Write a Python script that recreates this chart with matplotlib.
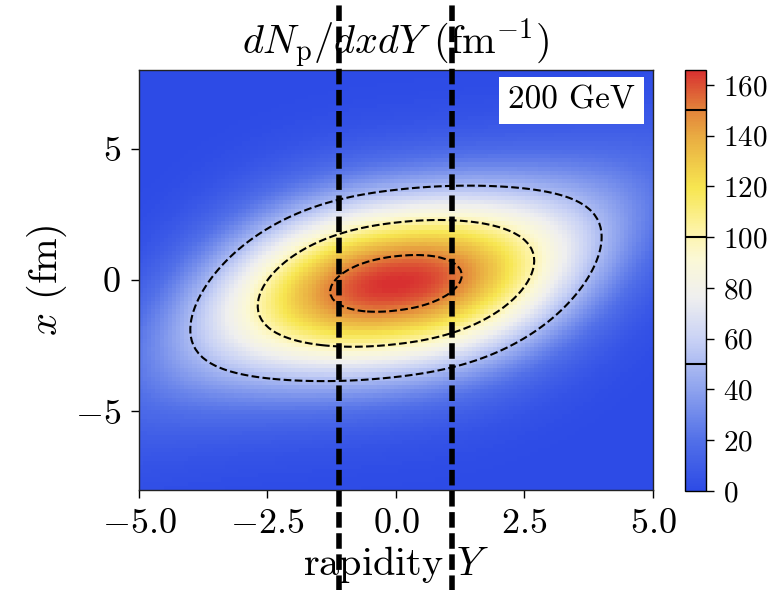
import numpy as np
import matplotlib.pyplot as plt
from matplotlib.colors import LinearSegmentedColormap, Normalize

plt.rcParams['font.family'] = 'serif'
plt.rcParams['font.serif'] = ['cmr10']
plt.rcParams['mathtext.fontset'] = 'cm'
plt.rcParams['axes.formatter.use_mathtext'] = True

# --- valores -----------------------------------------------------------------
energia = '200 GeV'
pico = 166.0          # maximo de dN_p/dxdY (fm^-1)
escala_Y = 3.68       # escala do perfil em rapidez
expoente_Y = 2.17     # perfil um pouco mais achatado que gaussiano
largura_x = 2.3       # largura transversal (fm)
centro_x = -0.13      # deslocamento do centro em x (fm)
incl_lin = 0.22       # inclinacao do eixo da distribuicao (termo linear)
incl_cub = 0.0138     # inclinacao (termo cubico)
niveis = [50, 100, 150]
corte_Y = [-1.1, 1.1]
lim_Y = [-5.0, 5.0]
lim_x = [-8.0, 8.0]
passo_Y, passo_x = 0.08, 0.16
ticks_Y = [-5.0, -2.5, 0.0, 2.5, 5.0]
ticks_x = [-5, 0, 5]
ticks_cb = [0, 20, 40, 60, 80, 100, 120, 140, 160]

# mapa de cores azul -> branco -> amarelo -> vermelho
nos = [(0.00, '#2d4be6'), (0.12, '#5270e8'), (0.24, '#8ea3ee'),
       (0.36, '#c9d2f5'), (0.46, '#efefef'), (0.55, '#fbf8d6'),
       (0.62, '#fdf3a6'), (0.72, '#f7e650'), (0.84, '#e9ad42'),
       (0.91, '#e2803a'), (1.00, '#d83030')]
cmap = LinearSegmentedColormap.from_list('bwyr', nos)

#%% grade ----------------------------------------------------------------------
Yc = np.arange(lim_Y[0] + passo_Y/2, lim_Y[1], passo_Y)
xc = np.arange(lim_x[0] + passo_x/2, lim_x[1], passo_x)
YY, XX = np.meshgrid(Yc, xc)
eixo = centro_x + incl_lin*YY + incl_cub*YY**3
Z = pico*np.exp(-(np.abs(YY)/escala_Y)**expoente_Y)*np.exp(-(XX - eixo)**2/(2*largura_x**2))

#%% figura ---------------------------------------------------------------------
fig = plt.figure(figsize=(7.81, 5.9), dpi=100)
ax = fig.add_axes([0.178, 0.1695, 0.658, 0.712])
cax = fig.add_axes([0.877, 0.168, 0.027, 0.714])

norm = Normalize(vmin=0, vmax=pico)
pc = ax.pcolormesh(Yc, xc, Z, cmap=cmap, norm=norm, shading='nearest')
cs = ax.contour(Yc, xc, Z, levels=niveis, colors='k', linestyles='--', linewidths=1.5)

for y0 in corte_Y:
    ax.axvline(y0, ymin=-0.24, ymax=1.17, color='k', lw=4.0,
               linestyle=(0, (2.8, 1.0)), clip_on=False, zorder=10)

ax.set_xlim(lim_Y); ax.set_ylim(lim_x)
ax.set_xticks(ticks_Y); ax.set_yticks(ticks_x)
ax.xaxis.set_major_formatter(plt.FuncFormatter(lambda v, p: '$%.1f$' % v if v >= 0 else '$-%.1f$' % -v))
ax.yaxis.set_major_formatter(plt.FuncFormatter(lambda v, p: '$%d$' % v if v >= 0 else '$-%d$' % -v))
ax.tick_params(labelsize=26, length=6, width=1, direction='out', pad=7)
for s in ax.spines.values():
    s.set_linewidth(1.0); s.set_color('#222222')

ax.set_xlabel(r'rapidity $Y$', fontsize=29, labelpad=3)
ax.set_ylabel(r'$x$ (fm)', fontsize=29, labelpad=4)
ax.set_title(r'$dN_\mathrm{p}/dxdY\ (\mathrm{fm}^{-1})$', fontsize=29, pad=7)

ax.text(0.965, 0.962, energia, transform=ax.transAxes, ha='right', va='top',
        fontsize=24, zorder=5,
        bbox=dict(boxstyle='square,pad=0.28', fc='white', ec='none'))

cb = fig.colorbar(pc, cax=cax)
cb.set_ticks(ticks_cb)
cb.ax.tick_params(labelsize=21, length=6, width=1, pad=6)
cb.add_lines(cs.levels, ['k']*len(niveis), [1.5]*len(niveis))
cb.outline.set_linewidth(1.0)

plt.savefig('out.png', dpi=100)
